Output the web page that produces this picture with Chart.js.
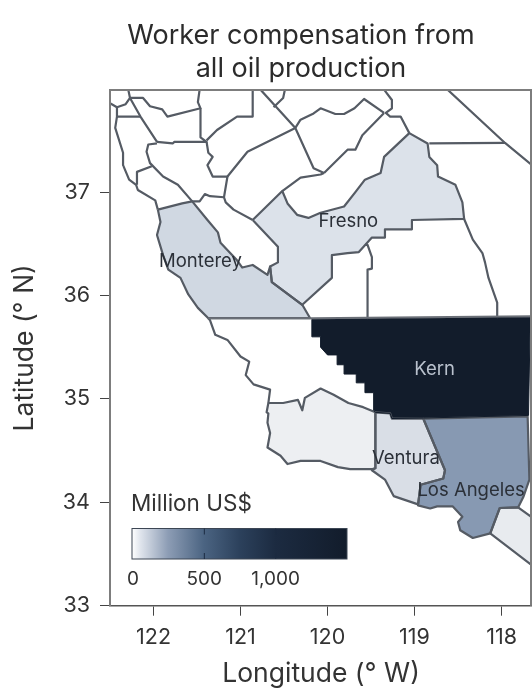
<!DOCTYPE html>
<html>
<head>
<meta charset="utf-8">
<title>Worker compensation from all oil production</title>
<script src="https://cdn.jsdelivr.net/npm/chart.js@4"></script>
<style>
  html, body { margin: 0; background: #fff; }
  #wrap { position: relative; width: 532px; height: 690px; overflow: hidden; }
  #title {
    position: absolute; left: 71px; top: 18px; width: 460px; text-align: center;
    font: 400 27px/33px Inter, sans-serif; color: #2b2b2b;
  }
  canvas { position: absolute; left: 0; top: 0; }
</style>
</head>
<body>
<div id="wrap">
  <canvas id="map" width="532" height="690"></canvas>
  <div id="title">Worker compensation from<br>all oil production</div>
</div>
<script>
/* County outlines, [longitude ° W, latitude ° N]. */
const monterey = [[121.95,36.83],[121.67,36.89],[121.555,36.91],[121.38,36.73],[121.26,36.61],[121.23,36.51],[121.04,36.34],[120.98,36.27],[120.86,36.295],[120.69,36.20],[120.66,36.28],[120.64,36.13],[120.29,35.91],[120.20,35.78],[121.37,35.78],[121.49,35.88],[121.60,36.01],[121.69,36.17],[121.83,36.25],[121.89,36.39],[121.96,36.585],[121.92,36.71]];
const fresno = [[120.86,36.73],[120.52,37.01],[120.46,36.89],[120.35,36.78],[120.22,36.75],[120.08,36.80],[119.81,36.86],[119.68,37.00],[119.57,37.12],[119.39,37.185],[119.35,37.34],[119.06,37.57],[118.85,37.47],[118.83,37.34],[118.74,37.26],[118.73,37.15],[118.53,37.07],[118.45,36.90],[118.43,36.74],[119.03,36.73],[119.03,36.64],[119.34,36.64],[119.34,36.56],[119.49,36.56],[119.64,36.42],[119.77,36.41],[119.95,36.39],[119.95,36.17],[120.29,35.91],[120.64,36.13],[120.66,36.28],[120.57,36.32],[120.57,36.47]];
const kern = [[120.18,35.77],[117.67,35.79],[117.69,34.84],[118.90,34.815],[119.26,34.81],[119.28,34.86],[119.45,34.87],[119.47,34.89],[119.47,35.06],[119.57,35.06],[119.57,35.155],[119.67,35.155],[119.67,35.24],[119.81,35.24],[119.81,35.33],[119.89,35.33],[119.89,35.425],[120.00,35.425],[120.08,35.50],[120.08,35.60],[120.18,35.60]];
const santaBarbara = [[120.68,34.96],[120.51,34.96],[120.34,34.99],[120.29,34.89],[120.26,35.01],[120.08,35.10],[119.93,35.04],[119.76,34.96],[119.59,34.92],[119.45,34.87],[119.45,34.33],[119.49,34.32],[119.74,34.32],[119.88,34.34],[120.08,34.40],[120.31,34.40],[120.46,34.37],[120.54,34.45],[120.69,34.53],[120.66,34.67],[120.69,34.77],[120.68,34.86],[120.70,34.87]];
const ventura = [[119.45,34.87],[119.28,34.86],[119.26,34.81],[118.90,34.81],[118.65,34.31],[118.67,34.23],[118.93,34.17],[118.96,33.98],[119.24,34.06],[119.34,34.22],[119.49,34.31],[119.45,34.33]];
const losAngeles = [[118.90,34.81],[117.70,34.83],[117.68,34.22],[117.75,34.05],[117.81,33.95],[118.02,33.945],[118.13,33.70],[118.33,33.655],[118.475,33.73],[118.50,33.81],[118.45,33.86],[118.56,33.96],[118.74,33.96],[118.82,33.94],[118.96,33.97],[118.93,34.17],[118.67,34.23],[118.65,34.31]];
const orange = [[118.02,33.945],[117.81,33.95],[117.61,33.83],[117.61,33.365],[118.13,33.70]];

const filledCounties = [monterey, fresno, santaBarbara, ventura, losAngeles, orange, kern];
const filledColors = ["#d0d8e2", "#dce2ea", "#edeff2", "#d9dee6", "#8799b2", "#e8ebef", "#121c2b"];

/* Borders of the counties that carry no fill. */
const borders = [
  [[122.50,37.86],[122.42,37.82],[122.32,37.85],[122.27,37.91],[122.29,37.99]],
  [[122.27,37.91],[122.12,37.91],[122.04,37.83],[121.90,37.80],[121.84,37.73],[121.46,37.81],[121.49,37.87],[121.47,37.99]],
  [[122.27,37.91],[122.15,37.73],[121.96,37.485]],
  [[122.42,37.82],[122.42,37.73],[122.44,37.62],[122.35,37.38],[122.35,37.26],[122.28,37.12],[122.20,37.07],[122.18,37.02],[121.98,36.92],[121.95,36.83]],
  [[122.42,37.73],[122.15,37.73]],
  [[121.96,37.485],[121.78,37.47],[121.76,37.485],[121.39,37.485],[121.46,37.53],[121.46,37.81]],
  [[121.96,37.47],[122.06,37.46],[122.08,37.39],[122.04,37.28],[121.89,37.15],[121.72,37.07],[121.555,36.91]],
  [[121.555,36.91],[121.47,36.91],[121.41,36.98],[121.35,36.96],[121.19,36.95]],
  [[121.39,37.485],[121.37,37.38],[121.32,37.34],[121.38,37.26],[121.32,37.15],[121.15,37.15],[121.19,36.95],[121.17,36.90],[121.08,36.83],[120.86,36.73]],
  [[121.15,37.15],[120.92,37.39],[120.37,37.62]],
  [[121.39,37.50],[121.27,37.60],[121.04,37.73],[120.86,37.73],[120.86,37.99]],
  [[120.77,37.99],[120.37,37.62],[120.16,37.23],[120.04,37.185]],
  [[120.52,37.01],[120.31,37.14],[120.08,37.17],[120.04,37.185]],
  [[120.04,37.185],[119.77,37.41],[119.68,37.41],[119.60,37.55],[119.35,37.765]],
  [[120.62,37.82],[120.51,37.91],[120.49,37.99]],
  [[120.37,37.62],[120.31,37.70],[120.16,37.76],[120.08,37.81],[119.91,37.755],[119.81,37.755],[119.69,37.81],[119.58,37.90],[119.35,37.765]],
  [[119.35,37.99],[119.26,37.89],[119.26,37.81],[119.33,37.765],[119.28,37.73],[119.16,37.73],[119.06,37.57]],
  [[118.62,37.99],[117.96,37.475],[117.65,37.26]],
  [[118.83,37.47],[117.96,37.475]],
  [[122.19,37.07],[122.19,37.195],[122.02,37.25]],
  [[119.57,36.49],[119.54,36.49],[119.49,36.37],[119.49,36.26],[119.54,36.25],[119.54,35.78]],
  [[118.43,36.74],[118.33,36.54],[118.22,36.41],[118.19,36.32],[118.15,36.17],[118.05,35.93],[118.05,35.79]],
  [[121.37,35.78],[121.35,35.76],[121.29,35.62],[121.15,35.57],[121.00,35.41],[120.90,35.36],[120.94,35.23],[120.85,35.14],[120.66,35.09],[120.68,34.96]],
];
const kernTop = [[121.37,35.78],[120.18,35.78],[117.65,35.80]];

const countyNames = ["Monterey", "Fresno", "Kern", "Ventura", "Los Angeles"];
const nameLon = [121.46, 119.76, 118.77, 119.10, 118.35];
const nameLat = [36.33, 36.72, 35.28, 34.42, 34.11];
const nameColors = ["#2b3038", "#2b3038", "#b9c1cd", "#2b3038", "#2b3038"];

const lonTicks = [122, 121, 120, 119, 118];
const latTicks = [37, 36, 35, 34, 33];

const legendTitle = "Million US$";
const legendTicks = [0, 500, 1000];
const legendMax = 1500;
const legendStops = [0, 60, 250, 500, 750, 1000, 1500];
const legendColors = ["#ffffff", "#dfe4ec", "#8d9db5", "#4b6482", "#2c415c", "#1c2b41", "#121c2b"];

const LINE = "#555b64";
const INK = "#333333";
const FONT = "Inter, sans-serif";

const toPoints = coords => coords.map(c => ({ x: c[0], y: c[1] }));
const closed = coords => toPoints(coords.concat([coords[0]]));

function outline(data, color, width) {
  return { data, borderColor: color, borderWidth: width, pointRadius: 0, showLine: true, tension: 0, fill: false, borderJoinStyle: "round" };
}

const datasets = [];
datasets.push(outline(toPoints(kernTop), "#6a6f77", 2));
datasets.push(outline(closed(kern), "#121c2b", 1));
filledCounties.slice(0, -1).forEach(c => datasets.push(outline(closed(c), LINE, 2.2)));
borders.forEach(b => datasets.push(outline(toPoints(b), LINE, 2.2)));

const mapPlugin = {
  id: "mapPlugin",
  beforeDatasetsDraw(chart) {
    const { ctx, scales: { x, y }, chartArea: a } = chart;
    ctx.save();
    ctx.beginPath();
    ctx.rect(a.left, a.top, a.width, a.height);
    ctx.clip();
    filledCounties.forEach((county, i) => {
      ctx.beginPath();
      county.forEach((c, j) => {
        const px = x.getPixelForValue(c[0]), py = y.getPixelForValue(c[1]);
        if (j) ctx.lineTo(px, py); else ctx.moveTo(px, py);
      });
      ctx.closePath();
      ctx.fillStyle = filledColors[i];
      ctx.fill();
    });
    ctx.restore();
  },
  afterDatasetsDraw(chart) {
    const { ctx, scales: { x, y }, chartArea: a } = chart;
    ctx.save();

    // frame
    ctx.strokeStyle = "#7d7d7d";
    ctx.lineWidth = 2;
    ctx.beginPath();
    ctx.moveTo(a.left, a.bottom);
    ctx.lineTo(a.left, a.top);
    ctx.lineTo(a.right - 1, a.top);
    ctx.lineTo(a.right - 1, a.bottom);
    ctx.stroke();

    // county names
    ctx.font = `400 18.5px ${FONT}`;
    ctx.textAlign = "center";
    ctx.textBaseline = "middle";
    countyNames.forEach((name, i) => {
      ctx.fillStyle = nameColors[i];
      ctx.fillText(name, x.getPixelForValue(nameLon[i]), y.getPixelForValue(nameLat[i]));
    });

    // colour bar
    const bar = { left: 132, top: 528.5, width: 215, height: 30.5 };
    const valueX = v => bar.left + 1 + (bar.width - 1) * v / legendMax;
    const grad = ctx.createLinearGradient(bar.left, 0, bar.left + bar.width, 0);
    legendStops.forEach((s, i) => grad.addColorStop(s / legendMax, legendColors[i]));
    ctx.fillStyle = grad;
    ctx.fillRect(bar.left, bar.top, bar.width, bar.height);
    ctx.strokeStyle = "#3c4654";
    ctx.lineWidth = 1;
    ctx.strokeRect(bar.left, bar.top, bar.width, bar.height);
    ctx.strokeStyle = "#1c2b41";
    legendTicks.forEach(v => {
      if (!v) return;
      ctx.beginPath();
      ctx.moveTo(valueX(v), bar.top); ctx.lineTo(valueX(v), bar.top + 6);
      ctx.moveTo(valueX(v), bar.top + bar.height - 6); ctx.lineTo(valueX(v), bar.top + bar.height);
      ctx.stroke();
    });

    ctx.fillStyle = INK;
    ctx.font = `400 19px ${FONT}`;
    legendTicks.forEach(v => ctx.fillText(v.toLocaleString("en-US"), valueX(v), 579));
    ctx.font = `400 22.5px ${FONT}`;
    ctx.textAlign = "left";
    ctx.fillText(legendTitle, 131, 504);
    ctx.restore();
  },
};

new Chart(document.getElementById("map"), {
  type: "scatter",
  data: { datasets },
  plugins: [mapPlugin],
  options: {
    responsive: false,
    animation: false,
    layout: { padding: { top: 90, left: 0, right: 0, bottom: 0 } },
    plugins: { legend: { display: false }, tooltip: { enabled: false } },
    scales: {
      x: {
        type: "linear", reverse: true, min: 117.65, max: 122.5,
        afterBuildTicks: axis => { axis.ticks = lonTicks.map(value => ({ value })); },
        afterFit: axis => { axis.height = 84.3; },
        grid: { drawOnChartArea: false, color: "#444", tickLength: 10 },
        border: { color: "#555", width: 1.5 },
        ticks: { color: INK, font: { family: FONT, size: 21.5 }, padding: 9, maxRotation: 0, callback: v => String(v) },
        title: { display: true, text: "Longitude (° W)", color: INK, font: { family: FONT, size: 26.5 }, padding: { top: 4, bottom: 0 } },
      },
      y: {
        type: "linear", min: 33, max: 37.987,
        afterBuildTicks: axis => { axis.ticks = latTicks.map(value => ({ value })); },
        afterFit: axis => { axis.width = 110; },
        grid: { drawOnChartArea: false, color: "#444", tickLength: 10 },
        border: { color: "#7d7d7d", width: 2 },
        ticks: { color: INK, font: { family: FONT, size: 21.5 }, padding: 10, callback: v => String(v) },
        title: { display: true, text: "Latitude (° N)", color: INK, font: { family: FONT, size: 26.5 }, padding: { top: 9, bottom: 0 } },
      },
    },
  },
});
</script>
</body>
</html>
